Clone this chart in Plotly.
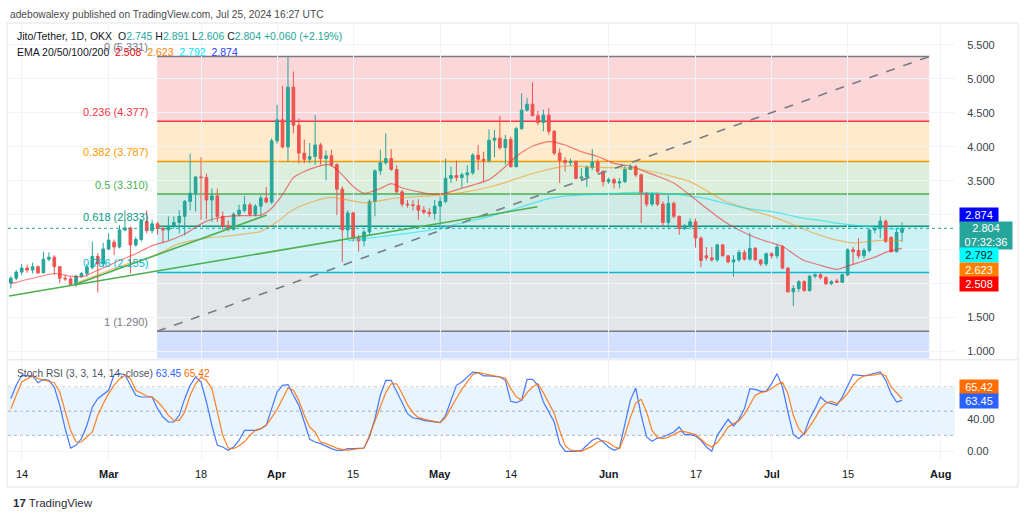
import plotly.graph_objects as go
import pandas as pd

# ---------------- data ----------------
start_date = "2024-02-12"
# daily candles Feb 12 .. Jul 25 2024 (open, high, low, close)
opens = [2.00, 2.07, 2.16, 2.22, 2.19, 2.24, 2.15, 2.35, 2.38, 2.24, 2.07, 2.06, 1.98, 2.10, 2.14, 2.23, 2.39, 2.28,
         2.50, 2.60, 2.53, 2.78, 2.81, 2.56, 2.64, 2.91, 2.77, 2.87, 2.80, 2.78, 2.84, 2.89, 2.98, 3.20, 3.32, 3.56,
         3.55, 3.22, 3.28, 2.98, 2.84, 2.79, 3.01, 3.07, 3.15, 3.01, 3.13, 3.25, 3.19,
         4.09, 4.40, 4.00, 4.88, 4.32, 3.91, 3.82, 3.86, 4.03, 3.83, 3.87, 3.74, 3.38, 2.78, 3.03, 2.66, 2.62, 2.75,
         3.20, 3.65, 3.77, 3.83, 3.67, 3.34, 3.16, 3.15, 3.14, 3.07, 3.04, 3.02,
         3.13, 3.20, 3.54, 3.58, 3.55, 3.59, 3.62, 3.88, 3.82, 3.80, 4.10, 4.13, 3.99, 4.11, 3.71, 4.27, 4.54, 4.63,
         4.46, 4.36, 4.47, 4.23, 3.91, 3.80, 3.77, 3.79, 3.54, 3.56, 3.70, 3.78, 3.64,
         3.49, 3.52, 3.47, 3.49, 3.67, 3.71, 3.59, 3.32, 3.16, 3.31, 3.16, 2.89, 3.17, 2.98, 2.80, 2.84, 2.90, 2.66,
         2.40, 2.37, 2.34, 2.56, 2.40, 2.31, 2.34, 2.45, 2.35, 2.51, 2.34, 2.28,
         2.43, 2.40, 2.53, 2.22, 1.87, 1.92, 2.02, 1.89, 2.10, 2.12, 2.08, 1.99, 2.03, 2.01, 2.12, 2.49, 2.48, 2.40,
         2.48, 2.78, 2.80, 2.91, 2.67, 2.46, 2.745]
highs = [2.10, 2.19, 2.28, 2.27, 2.30, 2.26, 2.46, 2.45, 2.41, 2.25, 2.12, 2.09, 2.12, 2.16, 2.28, 2.61, 2.44, 2.59,
         2.73, 2.64, 2.85, 3.07, 2.83, 2.68, 2.94, 3.07, 2.93, 2.90, 2.84, 2.98, 2.98, 3.07, 3.22, 3.90, 3.57, 3.85,
         3.61, 3.39, 3.39, 3.05, 2.92, 3.04, 3.15, 3.28, 3.18, 3.16, 3.29, 3.41, 4.13,
         4.62, 4.90, 5.33, 5.11, 4.42, 4.11, 4.06, 4.47, 4.06, 3.95, 3.96, 3.76, 3.42, 3.07, 3.05, 2.71, 2.78, 3.23,
         3.67, 3.96, 4.20, 3.97, 3.73, 3.37, 3.22, 3.22, 3.23, 3.13, 3.10, 3.22,
         3.27, 3.83, 3.71, 3.80, 3.62, 3.73, 3.91, 4.03, 3.93, 4.26, 4.25, 4.46, 4.18, 4.15, 4.30, 4.79, 4.72, 4.95,
         4.53, 4.55, 4.57, 4.25, 3.98, 3.85, 3.83, 3.80, 3.69, 3.73, 3.97, 3.82, 3.66,
         3.55, 3.55, 3.54, 3.73, 3.75, 3.74, 3.61, 3.34, 3.33, 3.33, 3.20, 3.29, 3.20, 2.99, 2.87, 2.95, 2.95, 2.69,
         2.53, 2.53, 2.58, 2.57, 2.41, 2.41, 2.49, 2.49, 2.74, 2.53, 2.35, 2.45,
         2.45, 2.56, 2.56, 2.23, 1.97, 2.04, 2.04, 2.12, 2.14, 2.14, 2.10, 2.04, 2.06, 2.14, 2.51, 2.53, 2.66, 2.51,
         2.80, 2.82, 2.98, 2.93, 2.69, 2.80, 2.891]
lows = [1.92, 2.04, 2.12, 2.15, 2.14, 2.13, 2.14, 2.32, 2.12, 2.00, 2.03, 1.96, 1.94, 2.08, 2.09, 2.20, 1.86, 2.24,
        2.48, 2.41, 2.51, 2.76, 2.14, 2.53, 2.61, 2.73, 2.73, 2.71, 2.59, 2.63, 2.80, 2.73, 2.70, 3.07, 3.05, 2.93,
        2.94, 2.90, 2.90, 2.78, 2.76, 2.77, 2.98, 3.04, 2.98, 2.98, 2.98, 3.17, 3.16,
        4.05, 3.98, 3.78, 4.20, 3.76, 3.76, 3.76, 3.74, 3.74, 3.51, 3.71, 3.00, 2.31, 2.66, 2.61, 2.46, 2.54, 2.71,
        2.98, 3.59, 3.74, 3.65, 3.32, 3.12, 3.11, 3.07, 2.93, 3.01, 2.97, 2.93,
        2.78, 3.17, 3.47, 3.50, 3.40, 3.47, 3.59, 3.66, 3.49, 3.77, 3.85, 3.96, 3.74, 3.70, 3.70, 4.25, 4.52, 4.45,
        4.32, 4.23, 4.18, 3.88, 3.47, 3.64, 3.72, 3.52, 3.51, 3.41, 3.66, 3.61, 3.42,
        3.46, 3.39, 3.39, 3.47, 3.66, 3.56, 2.88, 3.12, 3.13, 3.13, 2.83, 2.79, 2.95, 2.71, 2.78, 2.79, 2.52, 2.23,
        2.33, 2.31, 2.31, 2.39, 2.29, 2.09, 2.31, 2.33, 2.33, 2.33, 2.25, 2.25,
        2.36, 2.36, 2.20, 1.86, 1.66, 1.87, 1.87, 1.87, 2.07, 2.05, 1.97, 1.97, 2.00, 2.00, 2.10, 2.27, 2.36, 2.36,
        2.45, 2.73, 2.66, 2.59, 2.45, 2.45, 2.606]
closes = [2.07, 2.16, 2.22, 2.19, 2.24, 2.15, 2.35, 2.38, 2.24, 2.07, 2.06, 1.98, 2.10, 2.14, 2.23, 2.39, 2.28, 2.50,
          2.63, 2.53, 2.78, 2.81, 2.56, 2.64, 2.91, 2.77, 2.87, 2.80, 2.78, 2.84, 2.89, 2.98, 3.20, 3.32, 3.56, 3.55,
          3.22, 3.28, 2.98, 2.84, 2.79, 3.01, 3.07, 3.15, 3.01, 3.13, 3.25, 3.19, 4.09,
          4.40, 4.00, 4.88, 4.32, 3.91, 3.82, 3.86, 4.03, 3.83, 3.87, 3.74, 3.38, 2.78, 3.03, 2.66, 2.62, 2.75, 3.20,
          3.65, 3.77, 3.83, 3.67, 3.34, 3.16, 3.15, 3.14, 3.07, 3.04, 3.02, 3.13,
          3.20, 3.54, 3.58, 3.55, 3.59, 3.62, 3.88, 3.82, 3.80, 4.10, 4.13, 3.99, 4.11, 3.71, 4.27, 4.54, 4.63, 4.46,
          4.36, 4.47, 4.23, 3.91, 3.80, 3.77, 3.79, 3.54, 3.56, 3.70, 3.78, 3.64, 3.49,
          3.52, 3.47, 3.49, 3.67, 3.71, 3.59, 3.32, 3.16, 3.31, 3.16, 2.89, 3.17, 2.98, 2.80, 2.84, 2.90, 2.66, 2.33,
          2.37, 2.34, 2.56, 2.40, 2.31, 2.34, 2.45, 2.35, 2.51, 2.34, 2.28, 2.43,
          2.40, 2.53, 2.22, 1.87, 1.92, 2.02, 1.89, 2.10, 2.12, 2.08, 1.99, 2.02, 2.01, 2.12, 2.49, 2.46, 2.40, 2.48,
          2.78, 2.80, 2.91, 2.61, 2.46, 2.745, 2.804]

# EMA lines (date, value)
ema20 = [("2024-02-12", 1.99), ("2024-02-16", 2.07), ("2024-02-20", 2.14), ("2024-02-23", 2.10), ("2024-02-25", 2.09),
         ("2024-02-27", 2.15), ("2024-02-29", 2.22), ("2024-03-03", 2.33), ("2024-03-06", 2.43), ("2024-03-09", 2.55),
         ("2024-03-12", 2.62), ("2024-03-15", 2.72), ("2024-03-17", 2.82), ("2024-03-19", 2.91), ("2024-03-22", 2.97),
         ("2024-03-25", 2.99), ("2024-03-29", 3.00), ("2024-03-31", 3.10), ("2024-04-02", 3.30), ("2024-04-04", 3.55),
         ("2024-04-06", 3.64), ("2024-04-08", 3.70), ("2024-04-10", 3.74), ("2024-04-11", 3.73), ("2024-04-13", 3.59),
         ("2024-04-15", 3.42), ("2024-04-17", 3.32), ("2024-04-20", 3.39), ("2024-04-22", 3.46), ("2024-04-24", 3.40),
         ("2024-04-27", 3.34), ("2024-04-29", 3.31), ("2024-05-02", 3.32), ("2024-05-04", 3.37), ("2024-05-07", 3.44),
         ("2024-05-10", 3.52), ("2024-05-13", 3.71), ("2024-05-15", 3.86), ("2024-05-18", 4.01), ("2024-05-21", 4.08),
         ("2024-05-24", 4.03), ("2024-05-27", 3.93), ("2024-05-30", 3.86), ("2024-06-02", 3.76), ("2024-06-05", 3.72),
         ("2024-06-08", 3.63), ("2024-06-10", 3.57), ("2024-06-13", 3.47), ("2024-06-16", 3.29), ("2024-06-19", 3.10),
         ("2024-06-22", 2.92), ("2024-06-25", 2.78), ("2024-06-28", 2.67), ("2024-07-01", 2.59), ("2024-07-03", 2.54),
         ("2024-07-05", 2.43), ("2024-07-07", 2.33), ("2024-07-10", 2.26), ("2024-07-13", 2.20), ("2024-07-14", 2.22),
         ("2024-07-17", 2.30), ("2024-07-20", 2.38), ("2024-07-22", 2.45), ("2024-07-25", 2.508)]
ema50 = [("2024-02-24", 2.00), ("2024-02-28", 2.12), ("2024-03-04", 2.27), ("2024-03-09", 2.39), ("2024-03-14", 2.58),
         ("2024-03-19", 2.66), ("2024-03-24", 2.70), ("2024-03-29", 2.76), ("2024-04-01", 2.90), ("2024-04-04", 3.08),
         ("2024-04-08", 3.21), ("2024-04-11", 3.26), ("2024-04-17", 3.18), ("2024-04-23", 3.25), ("2024-04-29", 3.28),
         ("2024-05-05", 3.33), ("2024-05-11", 3.43), ("2024-05-18", 3.61), ("2024-05-24", 3.72), ("2024-05-30", 3.70),
         ("2024-06-05", 3.69), ("2024-06-09", 3.64), ("2024-06-13", 3.56), ("2024-06-16", 3.49), ("2024-06-19", 3.36),
         ("2024-06-22", 3.22), ("2024-06-25", 3.13), ("2024-06-28", 3.05), ("2024-07-01", 2.98), ("2024-07-04", 2.89),
         ("2024-07-07", 2.79), ("2024-07-10", 2.70), ("2024-07-13", 2.63), ("2024-07-16", 2.59), ("2024-07-19", 2.61),
         ("2024-07-22", 2.63), ("2024-07-25", 2.623)]
ema100 = [("2024-04-14", 2.62), ("2024-04-20", 2.68), ("2024-04-25", 2.73), ("2024-04-30", 2.79), ("2024-05-06", 2.90),
          ("2024-05-12", 3.02), ("2024-05-18", 3.17), ("2024-05-21", 3.24), ("2024-05-24", 3.28), ("2024-05-31", 3.31),
          ("2024-06-05", 3.33), ("2024-06-08", 3.33), ("2024-06-11", 3.32), ("2024-06-14", 3.30), ("2024-06-19", 3.24),
          ("2024-06-22", 3.18), ("2024-06-25", 3.12), ("2024-06-28", 3.08), ("2024-07-01", 3.05), ("2024-07-04", 3.00),
          ("2024-07-07", 2.95), ("2024-07-10", 2.92), ("2024-07-13", 2.88), ("2024-07-16", 2.85), ("2024-07-19", 2.83),
          ("2024-07-22", 2.80), ("2024-07-25", 2.792)]
ema_last = {"20": 2.508, "50": 2.623, "100": 2.792, "200": 2.874}

# Stoch RSI: (days after Feb 14, value)
stoch_base = "2024-02-14"
stoch_k = [(-2, 65.5), (-1, 82.1), (0, 94.5), (2, 93.7), (3, 85.4), (4, 89.5), (5, 88.3), (6, 80.0), (7, 57.2),
           (8, 28.2), (9, 4.2), (10, 7.5), (11, 15.8), (12, 32.4), (13, 55.2), (14, 65.5), (16, 75.9), (17, 95.3),
           (18, 96.6), (19, 95.3), (20, 82.1), (21, 69.7), (22, 67.6), (24, 67.6), (25, 53.1), (26, 42.7), (27, 36.5),
           (28, 36.5), (29, 44.8), (30, 65.5), (31, 82.1), (32, 92.4), (33, 86.2), (34, 61.4), (35, 32.4), (36, 7.5),
           (37, 5.5), (38, 1.3), (39, 5.5), (40, 13.8), (41, 26.2), (43, 26.2), (44, 28.2), (45, 32.4), (46, 53.1),
           (47, 73.8), (48, 82.1), (49, 82.9), (50, 69.7), (51, 57.2), (52, 36.5), (53, 15.0), (54, 11.7), (55, 9.6),
           (57, 3.4), (58, 1.3), (59, 1.3), (60, 3.4), (61, 3.4), (63, 4.2), (64, 17.9), (65, 40.7), (66, 69.7),
           (67, 88.3), (68, 88.3), (69, 73.8), (71, 46.9), (72, 41.5), (73, 40.7), (74, 38.6), (76, 36.5), (77, 35.7),
           (78, 44.8), (79, 63.4), (80, 82.1), (81, 86.2), (82, 93.0), (83, 98.6), (84, 97.8), (85, 93.7), (86, 93.7),
           (88, 92.4), (89, 88.3), (90, 62.2), (91, 60.5), (92, 63.4), (93, 89.5), (94, 89.5), (95, 82.1), (96, 61.4),
           (98, 36.5), (99, 9.6), (100, 0.1), (102, 0.1), (103, 1.3), (104, 7.5), (105, 13.8), (106, 16.7),
           (107, 11.7), (108, 5.5), (109, 1.3), (110, 4.2), (111, 32.4), (112, 63.4), (113, 78.8), (114, 44.8),
           (115, 17.9), (116, 12.5), (117, 16.7), (118, 17.9), (120, 24.1), (121, 30.3), (122, 20.8), (123, 20.8),
           (124, 19.1), (125, 13.8), (126, 5.5), (127, 0.1), (128, 20.0), (129, 30.3), (130, 39.8), (131, 31.6),
           (132, 39.8), (133, 53.1), (134, 78.0), (135, 77.1), (136, 74.6), (137, 74.6), (138, 84.1), (139, 96.6),
           (140, 80.0), (141, 49.0), (142, 20.8), (143, 15.8), (144, 22.0), (145, 40.7), (146, 53.1), (147, 67.6),
           (148, 61.4), (149, 59.3), (150, 57.2), (151, 67.6), (152, 82.1), (153, 95.3), (155, 93.7), (156, 95.3),
           (158, 98.6), (159, 88.3), (160, 71.7), (161, 61.4), (162, 63.45)]
stoch_d = [(-2, 53.1), (-1, 69.7), (0, 86.2), (2, 93.7), (3, 90.4), (5, 87.1), (6, 85.4), (7, 73.8), (8, 49.0),
           (9, 26.2), (10, 11.7), (11, 11.7), (13, 24.1), (14, 44.8), (15, 59.3), (16, 71.7), (17, 82.0), (18, 90.0),
           (19, 94.5), (20, 90.4), (21, 75.9), (23, 68.8), (24, 67.6), (25, 62.0), (26, 54.5), (27, 44.8), (28, 38.6),
           (29, 38.6), (30, 49.0), (31, 69.7), (32, 84.0), (33, 92.4), (34, 88.0), (35, 78.0), (36, 49.0), (37, 20.0),
           (38, 4.2), (39, 3.4), (40, 7.0), (41, 12.0), (42, 20.0), (43, 26.2), (44, 28.2), (45, 32.4), (46, 42.0),
           (47, 52.0), (48, 65.5), (49, 78.8), (50, 75.9), (51, 63.4), (52, 44.8), (53, 30.0), (54, 24.1), (55, 11.7),
           (56, 9.6), (57, 6.7), (58, 4.0), (59, 2.6), (60, 1.3), (61, 2.6), (63, 4.2), (64, 20.0), (65, 38.0),
           (66, 55.0), (67, 73.0), (68, 84.0), (69, 84.0), (70, 72.0), (71, 58.0), (72, 48.0), (73, 42.0), (75, 38.6),
           (77, 35.7), (78, 42.0), (79, 55.0), (80, 66.0), (81, 77.0), (82, 86.0), (83, 95.5), (84, 97.8), (85, 96.5),
           (86, 95.0), (87, 93.7), (89, 91.2), (90, 78.0), (91, 68.0), (92, 63.4), (93, 73.0), (94, 80.0), (95, 84.1),
           (96, 73.0), (97, 60.0), (98, 47.0), (99, 26.2), (100, 7.5), (101, 1.5), (103, 0.1), (105, 6.5), (106, 11.7),
           (107, 13.5), (108, 11.0), (109, 6.0), (110, 3.4), (111, 20.0), (112, 42.0), (113, 60.0), (114, 64.7),
           (115, 49.0), (116, 26.0), (117, 17.0), (118, 15.8), (119, 17.5), (120, 20.5), (121, 24.5), (122, 24.5),
           (123, 23.0), (124, 20.8), (125, 15.0), (126, 9.0), (127, 5.5), (128, 11.0), (129, 20.0), (130, 30.3),
           (131, 34.5), (132, 38.0), (133, 46.0), (134, 57.0), (135, 69.7), (136, 73.0), (137, 74.6), (138, 78.0),
           (139, 83.0), (140, 86.0), (141, 72.0), (142, 44.8), (143, 28.0), (144, 21.0), (145, 30.3), (146, 41.0),
           (147, 53.0), (148, 60.0), (149, 62.0), (150, 59.3), (151, 64.5), (152, 72.0), (153, 82.0), (154, 90.0),
           (155, 93.7), (156, 94.3), (157, 95.0), (158, 96.6), (159, 94.0), (160, 80.0), (161, 72.0), (162, 65.42)]
stoch_last = {"k": 63.45, "d": 65.42}
stoch_levels = [80, 50, 20]

# Fibonacci retracement drawing
fib_levels = [0, 0.236, 0.382, 0.5, 0.618, 0.786, 1]
fib_prices = [5.331, 4.377, 3.787, 3.310, 2.833, 2.155, 1.290]
fib_ext_level = 1.618
fib_start = "2024-03-09 22:00"
fib_end = "2024-07-30 00:00"

# green trend lines (date, price)
trend_lines = [(("2024-02-11 16:00", 1.81), ("2024-05-18 22:00", 3.12)),
               (("2024-02-24 02:00", 1.985), ("2024-03-30 02:00", 3.00))]

# axis ticks
time_tick_dates = ["2024-02-14", "2024-03-01", "2024-03-18", "2024-04-01", "2024-04-15", "2024-05-01",
                   "2024-05-14", "2024-06-01", "2024-06-17", "2024-07-01", "2024-07-15", "2024-08-01"]
time_tick_text = ["14", "Mar", "18", "Apr", "15", "May", "14", "Jun", "17", "Jul", "15", "Aug"]
price_ticks = [1.0, 1.5, 2.0, 2.5, 3.0, 3.5, 4.0, 4.5, 5.0, 5.5]
stoch_ticks = [0, 40, 80]

ohlc_header = {"O": 2.745, "H": 2.891, "L": 2.606, "C": 2.804, "chg": "+0.060 (+2.19%)"}
countdown = "07:32:36"

# ---------------- styling / layout geometry ----------------
W, H = 1024, 517
FONT = "Liberation Sans, Arial, sans-serif"
FS = 10.5
UP, DOWN = "#26a69a", "#ef5350"
TXT = "#131722"
GRID = "#f0f3fa"
PX_DAY = 5.434           # pixels per daily bar
X_FEB14 = 21.7           # pixel position of Feb 14
PANE_L, PANE_R = 8, 955
PRICE_TOP, PRICE_BOT = 23.5, 358.5
ST_TOP, ST_BOT = 361, 461
PRICE_RANGE = [0.8897, 5.816]
ST_RANGE = [-11.93, 112.3]


def py(y):
    return 1 - y / H


def px(x):
    return x / W


base = pd.Timestamp(stoch_base)
x_start = base + pd.Timedelta(days=(PANE_L - X_FEB14) / PX_DAY)
x_end = base + pd.Timedelta(days=(PANE_R - X_FEB14) / PX_DAY)

dates = pd.date_range(start_date, periods=len(opens), freq="D")

fig = go.Figure()

# EMAs
for series, color in [(ema50, "rgba(255,140,0,0.55)"), (ema100, "rgba(0,225,245,0.6)"),
                      (ema20, "rgba(240,40,40,0.6)")]:
    fig.add_trace(go.Scatter(x=[d for d, _ in series], y=[v for _, v in series], mode="lines",
                             line=dict(color=color, width=1.2, shape="spline", smoothing=0.6),
                             hoverinfo="skip", xaxis="x", yaxis="y"))

fig.add_trace(go.Candlestick(x=dates, open=opens, high=highs, low=lows, close=closes,
                             increasing=dict(line=dict(color=UP, width=1), fillcolor=UP),
                             decreasing=dict(line=dict(color=DOWN, width=1), fillcolor=DOWN),
                             whiskerwidth=0, hoverinfo="skip", xaxis="x", yaxis="y"))

# Stoch RSI
fig.add_trace(go.Scatter(x=[base + pd.Timedelta(days=d) for d, _ in stoch_k], y=[v for _, v in stoch_k],
                         mode="lines", line=dict(color="#2962ff", width=1.2), opacity=0.85,
                         hoverinfo="skip", xaxis="x2", yaxis="y2"))
fig.add_trace(go.Scatter(x=[base + pd.Timedelta(days=d) for d, _ in stoch_d], y=[v for _, v in stoch_d],
                         mode="lines", line=dict(color="#ff6d00", width=1.2), opacity=0.85,
                         hoverinfo="skip", xaxis="x2", yaxis="y2"))

shapes = []
# fib zones
zone_colors = ["rgba(242,54,69,0.2)", "rgba(255,152,0,0.2)", "rgba(76,175,80,0.2)", "rgba(8,153,129,0.2)",
               "rgba(0,188,212,0.2)", "rgba(120,123,134,0.2)", "rgba(41,98,255,0.2)"]
line_colors = ["#787b86", "#f23645", "#ff9800", "#4caf50", "#089981", "#00bcd4", "#787b86"]
span = fib_prices[0] - fib_prices[-1]
ext_price = fib_prices[0] - fib_ext_level * span
zone_bounds = fib_prices + [ext_price]
for i in range(len(zone_bounds) - 1):
    shapes.append(dict(type="rect", xref="x", yref="y", x0=fib_start, x1=fib_end,
                       y0=zone_bounds[i + 1], y1=zone_bounds[i], fillcolor=zone_colors[i],
                       line=dict(width=0), layer="below"))
for i, p in enumerate(fib_prices):
    shapes.append(dict(type="line", xref="x", yref="y", x0=fib_start, x1=fib_end, y0=p, y1=p,
                       line=dict(color=line_colors[i], width=1.5), layer="below"))
# diagonal dashed trend of the fib
shapes.append(dict(type="line", xref="x", yref="y", x0=fib_start, x1=fib_end, y0=fib_prices[-1], y1=fib_prices[0],
                   line=dict(color="#787b86", width=1.6, dash="dash")))
# green trend lines
for (d0, p0), (d1, p1) in trend_lines:
    shapes.append(dict(type="line", xref="x", yref="y", x0=d0, x1=d1, y0=p0, y1=p1,
                       line=dict(color="#4caf50", width=1.6)))
# last price dotted line
shapes.append(dict(type="line", xref="x domain", yref="y", x0=0, x1=1, y0=closes[-1], y1=closes[-1],
                   line=dict(color=UP, width=1, dash="dot")))
# stoch band and levels
shapes.append(dict(type="rect", xref="x2 domain", yref="y2", x0=0, x1=1, y0=stoch_levels[2], y1=stoch_levels[0],
                   fillcolor="rgba(33,150,243,0.1)", line=dict(width=0), layer="below"))
for lv in stoch_levels:
    shapes.append(dict(type="line", xref="x2 domain", yref="y2", x0=0, x1=1, y0=lv, y1=lv,
                       line=dict(color="rgba(120,123,134,0.6)", width=1, dash="3px,3px"), layer="below"))
# pane separator & frame
shapes.append(dict(type="line", xref="paper", yref="paper", x0=px(7), x1=px(1018), y0=py(359.8), y1=py(359.8),
                   line=dict(color="#e0e3eb", width=1)))
shapes.append(dict(type="rect", xref="paper", yref="paper", x0=px(7), x1=px(1018), y0=py(487), y1=py(23),
                   line=dict(color="#e0e3eb", width=1), fillcolor="rgba(0,0,0,0)"))

ann = []
# header
ann.append(dict(xref="paper", yref="paper", x=px(8), y=py(14), xanchor="left", yanchor="middle", showarrow=False,
                text="adebowalexy published on TradingView.com, Jul 25, 2024 16:27 UTC",
                font=dict(family=FONT, size=10.2, color="#4a4a4a")))
g = lambda v: f"<span style='color:{UP}'>{v}</span>"
hdr = ("Jito/Tether, 1D, OKX  O" + g(f"{ohlc_header['O']:.3f}") + " H" + g(f"{ohlc_header['H']:.3f}") +
       " L" + g(f"{ohlc_header['L']:.3f}") + " C" + g(f"{ohlc_header['C']:.3f}") + " " + g(ohlc_header['chg']))
ann.append(dict(xref="paper", yref="paper", x=px(15), y=py(36), xanchor="left", yanchor="middle", showarrow=False,
                text=hdr, font=dict(family=FONT, size=FS, color=TXT)))
ema_hdr = ("EMA 20/50/100/200  " + f"<span style='color:#ff0000'>{ema_last['20']:.3f}</span>  "
           f"<span style='color:#ff8000'>{ema_last['50']:.3f}</span>  "
           f"<span style='color:#00e5ff'>{ema_last['100']:.3f}</span>  "
           f"<span style='color:#2a3cff'>{ema_last['200']:.3f}</span>")
ann.append(dict(xref="paper", yref="paper", x=px(15), y=py(52), xanchor="left", yanchor="middle", showarrow=False,
                text=ema_hdr, font=dict(family=FONT, size=FS, color=TXT)))
# fib labels
for lv, p, c in zip(fib_levels, fib_prices, line_colors):
    ann.append(dict(xref="x", yref="y", x=fib_start, y=p, xanchor="right", yanchor="bottom", xshift=-7, yshift=1,
                    showarrow=False, text=f"{lv:g} ({p:.3f})", font=dict(family=FONT, size=FS + 0.5, color=c)))
# stoch legend
ann.append(dict(xref="paper", yref="paper", x=px(15), y=py(373), xanchor="left", yanchor="middle", showarrow=False,
                text=("Stoch RSI (3, 3, 14, 14, close) " +
                      f"<span style='color:#2962ff'>{stoch_last['k']:.2f}</span> " +
                      f"<span style='color:#ff6d00'>{stoch_last['d']:.2f}</span>"),
                font=dict(family=FONT, size=10.2, color="#50535e")))
# time labels
for d, t in zip(time_tick_dates, time_tick_text):
    bold = not t.isdigit()
    ann.append(dict(xref="x2", yref="paper", x=d, y=py(474), xanchor="center", yanchor="middle", showarrow=False,
                    text=f"<b>{t}</b>" if bold else t, font=dict(family=FONT, size=FS + 0.5, color=TXT)))


# price boxes on the right axis
def box(ycenter, text, bg, fg, width=38, height=14):
    ann.append(dict(xref="paper", yref="paper", x=px(959), y=py(ycenter), xanchor="left", yanchor="middle",
                    showarrow=False, text=text, bgcolor=bg, width=width, height=height, borderpad=0,
                    align="center", font=dict(family=FONT, size=FS + 0.5, color=fg)))


box(214.5, f"{ema_last['200']:.3f}", "#0000ff", "white")
box(235, f"{closes[-1]:.3f}<br>{countdown}", UP, "white", width=52, height=26.5)
box(255.3, f"{ema_last['100']:.3f}", "#00ffff", "#131722")
box(269.5, f"{ema_last['50']:.3f}", "#ff8000", "white")
box(284, f"{ema_last['20']:.3f}", "#ff0000", "white")
box(386.5, f"{stoch_last['d']:.2f}", "#ff6d00", "white")
box(400.5, f"{stoch_last['k']:.2f}", "#2962ff", "white")

# TradingView logo text
ann.append(dict(xref="paper", yref="paper", x=px(11), y=py(503), xanchor="left", yanchor="middle", showarrow=False,
                text="<b>17</b> TradingView", font=dict(family=FONT, size=FS + 1, color="#2a2e39")))

hidden = {2.0, 2.5, 3.0}
fig.update_layout(
    width=W, height=H, margin=dict(l=0, r=0, t=0, b=0), paper_bgcolor="white", plot_bgcolor="white",
    showlegend=False, hovermode=False, shapes=shapes, annotations=ann,
    xaxis=dict(domain=[px(PANE_L), px(PANE_R)], type="date", range=[x_start, x_end], anchor="y",
               rangeslider=dict(visible=False), showticklabels=False, tickvals=time_tick_dates,
               showgrid=True, gridcolor=GRID, zeroline=False, showline=False),
    yaxis=dict(domain=[py(PRICE_BOT), py(PRICE_TOP)], range=PRICE_RANGE, side="right", anchor="x",
               tickvals=price_ticks, ticktext=["" if v in hidden else f"{v:.3f}" for v in price_ticks],
               ticks="outside", ticklen=9, tickcolor="rgba(0,0,0,0)", showgrid=True, gridcolor=GRID,
               zeroline=False, tickfont=dict(family=FONT, size=FS + 0.5, color="#3b3e47")),
    xaxis2=dict(domain=[px(PANE_L), px(PANE_R)], type="date", matches="x", anchor="y2",
                showticklabels=False, tickvals=time_tick_dates, showgrid=True, gridcolor=GRID, zeroline=False),
    yaxis2=dict(domain=[py(ST_BOT), py(ST_TOP)], range=ST_RANGE, side="right", anchor="x2",
                tickvals=stoch_ticks, ticktext=["0.00", "40.00", ""], ticks="outside", ticklen=9,
                tickcolor="rgba(0,0,0,0)", showgrid=True, gridcolor=GRID, zeroline=False,
                tickfont=dict(family=FONT, size=FS + 0.5, color="#3b3e47")),
)

# remove the browser's default 8px body margin so the figure sits at the page origin; hide the mode bar
fig.write_html("out.html", config={"displayModeBar": False, "staticPlot": True},
               post_script="document.body.style.margin='0';document.body.style.overflow='hidden';")
